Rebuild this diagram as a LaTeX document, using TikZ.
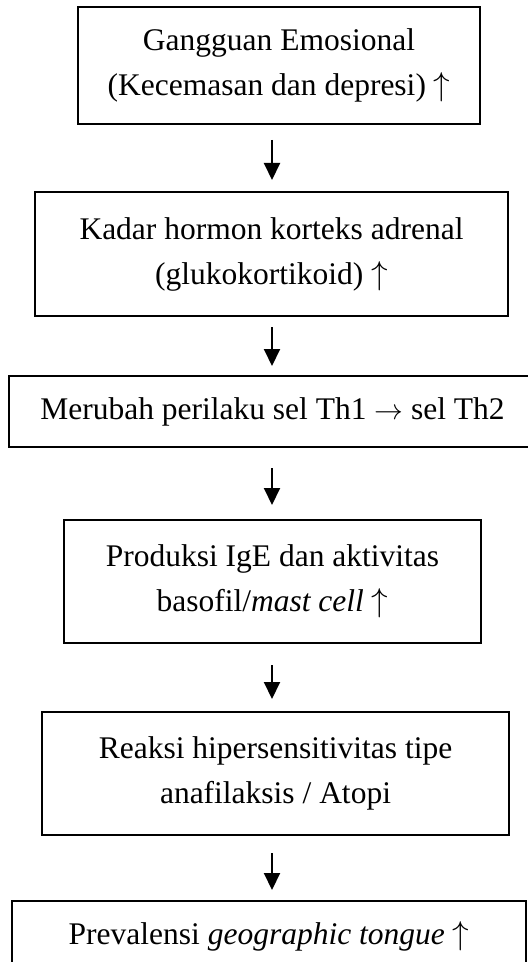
\documentclass[tikz,border=0pt]{standalone}
\usepackage{fontspec}
\setmainfont{Liberation Serif}
\usetikzlibrary{arrows.meta}

\newcommand{\naik}{\scalebox{1.15}{$\uparrow$}}

\begin{document}
\begin{tikzpicture}[x=0.5pt, y=-0.5pt,
        box/.style={draw, line width=1pt, align=center, inner sep=0pt, font=\fontsize{15.75}{22.5}\selectfont},
        flow/.style={-{Triangle[length=8.5pt, width=8pt]}, line width=1pt}]
        \useasboundingbox (0, 0) rectangle (528, 962);
        \clip (0, 0) rectangle (528, 962);

        \node[box, minimum width=201pt, minimum height=58.5pt] (emosi) at (279, 65.5) {Gangguan Emosional\\(Kecemasan dan depresi) \naik};
        \node[box, minimum width=236.5pt, minimum height=62pt] (hormon) at (271.5, 254) {Kadar hormon korteks adrenal\\(glukokortikoid) \naik};
        \node[box, minimum width=263.5pt, minimum height=35.5pt] (th) at (272.5, 411.5) {Merubah perilaku sel Th1 $\rightarrow$ sel Th2};
        \node[box, minimum width=208.5pt, minimum height=61.5pt] (ige) at (272.5, 581.5) {Produksi IgE dan aktivitas\\basofil/\textit{mast cell} \naik};
        \node[box, minimum width=233.5pt, minimum height=61.5pt] (reaksi) at (275.5, 773.5) {Reaksi hipersensitivitas tipe\\anafilaksis / Atopi};
        \node[box, minimum width=257pt, minimum height=35.5pt] (prev) at (269, 936.5) {Prevalensi \textit{geographic tongue} \naik};

        \coordinate (axis) at (272, 0);
        \draw[flow, shorten <=7.5pt, shorten >=5.5pt] (emosi.south -| axis) -- (hormon.north -| axis);
        \draw[flow, shorten <=5pt, shorten >=4.5pt] (hormon.south -| axis) -- (th.north -| axis);
        \draw[flow, shorten <=10pt, shorten >=7pt] (th.south -| axis) -- (ige.north -| axis);
        \draw[flow, shorten <=10.5pt, shorten >=6pt] (ige.south -| axis) -- (reaksi.north -| axis);
        \draw[flow, shorten <=8.5pt, shorten >=5pt] (reaksi.south -| axis) -- (prev.north -| axis);
    \end{tikzpicture}
\end{document}
